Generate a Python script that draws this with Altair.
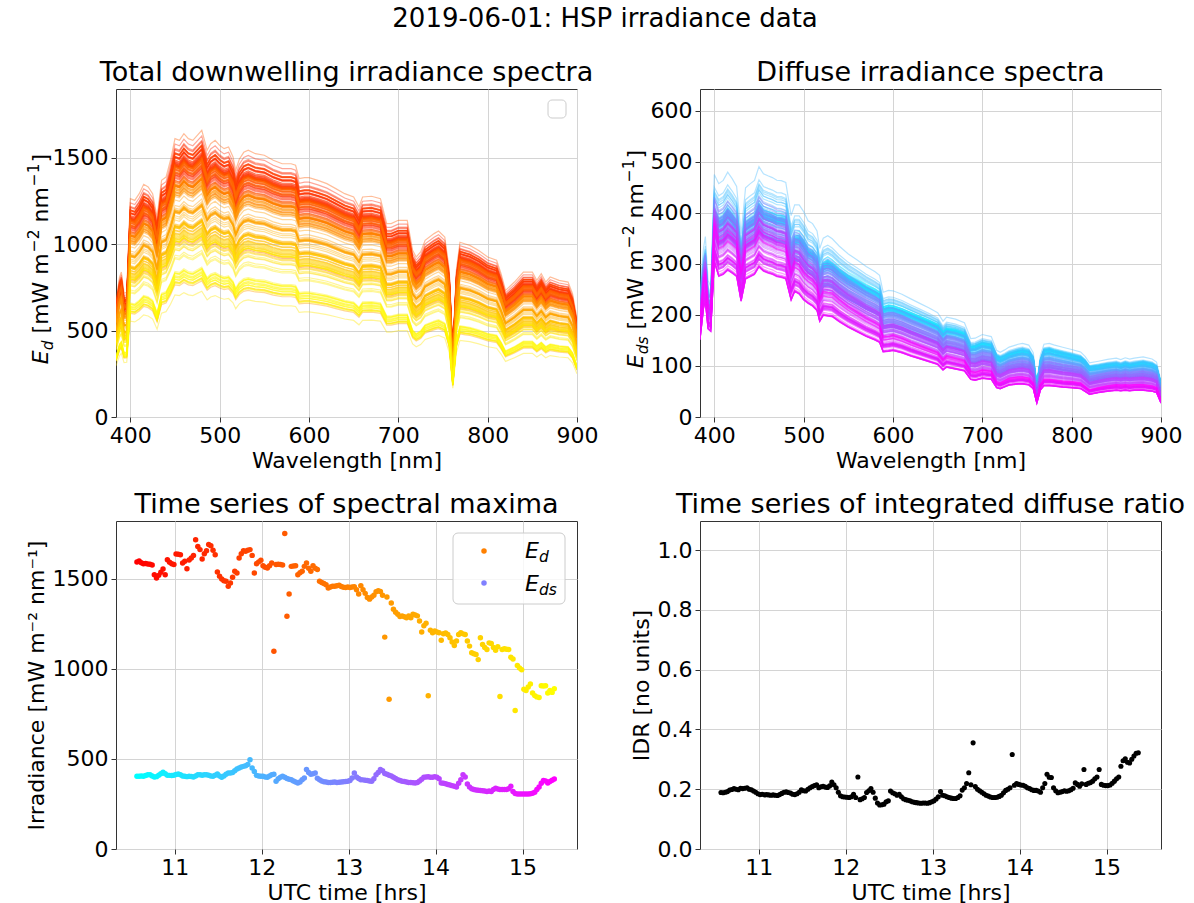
import altair as alt
import pandas as pd

FONT = "DejaVu Sans"

# ---------------- time series (1.5-min cadence starting 10.565 h UTC) ----------------
T0_H = 10.565
STEP_H = 0.025

ED_MAX = [
    1594, 1600, 1590, 1585, 1586, 1583, 1582, 1578, 1524, 1505,
    1520, 1537, 1555, 1524, 1607, 1593, 1585, 1580, 1639, 1637,
    1635, 1589, 1598, 1557, 1605, 1617, 1631, 1718, 1680, 1663,
    1611, 1640, 1657, 1691, 1685, 1660, 1635, 1539, 1515, 1500,
    1490, 1487, 1459, 1478, 1510, 1543, 1533, 1617, 1640, 1657,
    1654, 1660, 1663, 1631, 1533, 1585, 1595, 1604, 1574, 1565,
    1561, 1574, 1589, 1098, 1580, 1582, 1580, 1578, 1752, 1293,
    1417, 1570, 1572, 1574, 1524, 1535, 1543, 1570, 1589, 1560,
    1543, 1574, 1560, 1552, 1487, 1481, 1475, 1468, 1450, 1455,
    1459, 1459, 1462, 1465, 1458, 1454, 1452, 1455, 1453, 1455,
    1457, 1440, 1416, 1463, 1440, 1420, 1397, 1388, 1400, 1410,
    1429, 1435, 1430, 1410, 1177, 1400, 832, 1366, 1332, 1315,
    1304, 1291, 1295, 1290, 1285, 1295, 1285, 1304, 1300, 1295,
    1267, 1205, 1240, 1254, 851, 1215, 1201, 1211, 1205, 1201,
    1160, 1196, 1200, 1192, 1173, 1150, 1131, 1155, 1192, 1201,
    1195, 1192, 1155, 1127, 1090, 1085, 1080, 1052, 1173, 1136,
    1120, 1108, 1145, 1141, 1120, 1104, 1123, 847, 1108, 1112,
    1110, 1108, 1065, 1056, 769, 1019, 1005, 996, 888, 880,
    900, 916, 866, 852, 845, 841, 907, 905, 907, 866,
    880, 870, 890,
]

EDS_MAX = [
    404, 404, 405, 404, 408, 413, 412, 405, 400, 402,
    410, 418, 426, 418, 410, 409, 408, 410, 414, 417,
    412, 406, 404, 402, 404, 403, 400, 406, 412, 413,
    410, 412, 413, 410, 406, 404, 410, 417, 405, 398,
    405, 415, 422, 422, 425, 435, 444, 450, 455, 459,
    462, 470, 496, 450, 430, 409, 406, 404, 404, 400,
    398, 405, 412, 415, 376, 390, 398, 404, 398, 392,
    388, 385, 378, 372, 367, 372, 385, 395, 441, 425,
    415, 418, 422, 393, 385, 378, 374, 372, 370, 370,
    371, 372, 370, 371, 372, 374, 375, 376, 380, 395,
    422, 400, 392, 385, 384, 382, 380, 378, 376, 390,
    413, 425, 441, 435, 420, 415, 410, 405, 398, 392,
    385, 380, 376, 375, 372, 370, 369, 368, 367, 370,
    378, 388, 398, 400, 401, 398, 399, 402, 398, 390,
    367, 365, 362, 358, 355, 352, 348, 345, 365, 385,
    413, 400, 361, 345, 335, 330, 328, 326, 325, 323,
    322, 320, 322, 320, 330, 337, 333, 330, 330, 331,
    330, 335, 348, 320, 308, 306, 305, 306, 306, 305,
    306, 307, 310, 315, 330, 345, 365, 380, 378, 367,
    375, 382, 389,
]

IDR = [
    0.189, 0.188, 0.190, 0.192, 0.197, 0.199, 0.202, 0.200, 0.198, 0.203,
    0.202, 0.203, 0.205, 0.200, 0.198, 0.194, 0.190, 0.185, 0.182, 0.183,
    0.181, 0.182, 0.181, 0.180, 0.181, 0.180, 0.179, 0.182, 0.186, 0.190,
    0.191, 0.189, 0.187, 0.183, 0.182, 0.185, 0.190, 0.198, 0.195, 0.194,
    0.200, 0.205, 0.209, 0.212, 0.215, 0.205, 0.208, 0.210, 0.207, 0.206,
    0.211, 0.224, 0.215, 0.205, 0.190, 0.178, 0.175, 0.174, 0.173, 0.172,
    0.175, 0.183, 0.172, 0.241, 0.165, 0.168, 0.172, 0.189, 0.195, 0.202,
    0.190, 0.170, 0.154, 0.147, 0.148, 0.150, 0.158, 0.161, 0.194, 0.188,
    0.185, 0.180, 0.183, 0.175, 0.168, 0.165, 0.163, 0.161, 0.158, 0.156,
    0.155, 0.154, 0.153, 0.154, 0.154, 0.153, 0.155, 0.158, 0.161, 0.167,
    0.175, 0.192, 0.180, 0.178, 0.175, 0.172, 0.170, 0.169, 0.169, 0.172,
    0.178, 0.197, 0.205, 0.219, 0.255, 0.215, 0.355, 0.209, 0.200, 0.195,
    0.190, 0.185, 0.180, 0.177, 0.174, 0.172, 0.172, 0.173, 0.176, 0.180,
    0.188, 0.196, 0.200, 0.205, 0.316, 0.213, 0.219, 0.216, 0.214, 0.213,
    0.210, 0.205, 0.202, 0.198, 0.196, 0.196, 0.194, 0.190, 0.205, 0.219,
    0.250, 0.240, 0.239, 0.205, 0.195, 0.188, 0.190, 0.192, 0.195, 0.193,
    0.195, 0.198, 0.203, 0.221, 0.216, 0.210, 0.218, 0.266, 0.216, 0.220,
    0.222, 0.227, 0.235, 0.241, 0.266, 0.216, 0.213, 0.212, 0.212, 0.214,
    0.220, 0.227, 0.235, 0.241, 0.277, 0.295, 0.302, 0.290, 0.288, 0.300,
    0.311, 0.320, 0.322,
]

# ---------------- spectral shapes ----------------
WL = [384, 388, 390, 393, 396, 400, 405, 410, 415, 420,
      425, 430, 435, 440, 445, 450, 455, 460, 465, 470,
      475, 480, 486, 490, 495, 500, 505, 510, 515, 518,
      522, 527, 532, 540, 550, 560, 570, 580, 585, 589,
      595, 600, 610, 620, 630, 640, 650, 656, 660, 670,
      680, 687, 692, 700, 710, 716, 720, 725, 730, 740,
      745, 752, 757, 761, 765, 769, 775, 780, 790, 800,
      810, 815, 820, 830, 840, 850, 855, 860, 865, 870,
      880, 890, 895, 900]

# brightest total downwelling spectrum (upper envelope)
ED_TOP = [674, 810, 838, 716, 720, 1262, 1252, 1291, 1345, 1330,
          1291, 1156, 1368, 1387, 1484, 1609, 1599, 1638, 1609, 1599,
          1628, 1657, 1542, 1580, 1599, 1570, 1551, 1561, 1503, 1426,
          1490, 1530, 1542, 1522, 1513, 1484, 1464, 1464, 1455, 1378,
          1384, 1384, 1368, 1349, 1320, 1291, 1272, 1214, 1272, 1276,
          1262, 1118, 1118, 1137, 1137, 963, 925, 954, 1021, 1060,
          1075, 1040, 850, 380, 850, 1010, 1000, 992, 963, 925,
          906, 829, 732, 780, 838, 838, 790, 829, 780, 809,
          790, 780, 713, 568]

# diffuse spectrum shape early in the day (cyan lines)
DS_EARLY = [236, 300, 321, 243, 230, 432, 426, 432, 448, 435,
            419, 328, 419, 426, 432, 458, 445, 442, 439, 435,
            435, 432, 373, 390, 393, 383, 364, 360, 347, 315,
            334, 341, 334, 321, 308, 298, 287, 278, 272, 240,
            244, 242, 236, 228, 220, 212, 203, 188, 195, 192,
            185, 155, 157, 164, 160, 135, 131, 135, 140, 146,
            148, 145, 130, 72, 125, 148, 150, 147, 142, 137,
            132, 124, 111, 113, 116, 118, 115, 119, 116, 118,
            121, 117, 111, 75]

# diffuse spectrum shape late in the day (magenta lines)
DS_LATE = [165, 235, 249, 190, 185, 334, 301, 305, 314, 308,
           301, 249, 295, 300, 305, 321, 312, 308, 305, 300,
           298, 295, 249, 268, 262, 249, 242, 236, 226, 203,
           216, 214, 213, 202, 190, 180, 170, 162, 157, 137,
           138, 140, 135, 128, 122, 116, 110, 98, 104, 100,
           96, 78, 76, 80, 78, 60, 58, 62, 66, 68,
           68, 66, 58, 28, 55, 64, 64, 63, 61, 60,
           58, 52, 46, 50, 53, 55, 54, 55, 54, 55,
           55, 53, 50, 28]

N = len(ED_MAX)
TIME_H = [T0_H + STEP_H * k for k in range(N)]

ts = pd.DataFrame({"k": list(range(N)), "t": TIME_H, "ed": ED_MAX,
                   "eds": EDS_MAX, "idr": IDR})

ed_peak = max(ED_MAX)
e_pk = max(DS_EARLY)
l_pk = max(DS_LATE)
rows_ed, rows_ds = [], []
for k in range(N):
    w = k / (N - 1)
    for j, wl in enumerate(WL):
        rows_ed.append((k, wl, ED_TOP[j] * ED_MAX[k] / ed_peak))
        shape = (1 - w) * DS_EARLY[j] / e_pk + w * DS_LATE[j] / l_pk
        rows_ds.append((k, wl, EDS_MAX[k] * shape))
spec_ed = pd.DataFrame(rows_ed, columns=["k", "wl", "val"])
spec_ds = pd.DataFrame(rows_ds, columns=["k", "wl", "val"])

ONE = pd.DataFrame({"a": [0]})

W, H = 461, 328
AUTUMN = alt.Scale(domain=[0, N - 1], range=["#ff0000", "#ffff00"], interpolate="rgb")
COOL = alt.Scale(domain=[0, N - 1], range=["#00ffff", "#ff00ff"], interpolate="rgb")

def title(txt):
    return alt.TitleParams(txt, font=FONT, fontSize=27, fontWeight="normal",
                           color="black", anchor="middle", frame="group", offset=2)

x_wl = alt.X("wl:Q", scale=alt.Scale(domain=[384, 900], nice=False, zero=False),
             axis=alt.Axis(values=[400, 500, 600, 700, 800, 900], title="Wavelength [nm]"))
x_t = alt.X("t:Q", scale=alt.Scale(domain=[10.324, 15.626], nice=False, zero=False),
            axis=alt.Axis(values=[11, 12, 13, 14, 15], title="UTC time [hrs]"))


def ytitle(sub, xc, ymid):
    """Rotated y-axis title 'E_sub [mW m^-2 nm^-1]' built from text pieces."""
    sub_w = {"d": 9.8, "ds": 17.8}[sub]
    SP = 7.0  # width of a space at 22 px
    # (text, size, italic, baseline shift, gap before, advance width)
    pieces = [
        ("E", 22, True, 0, 0, 13.9),
        (sub, 15.4, True, 5, 0, sub_w),
        ("[mW m", 22, False, 0, SP, 80.2),
        ("\u22122", 15.4, False, -9, 1, 22.7),
        ("nm", 22, False, 0, SP, 35.4),
        ("\u22121", 15.4, False, -9, 1, 22.7),
        ("]", 22, False, 0, 1, 8.6),
    ]
    total = sum(p[4] + p[5] for p in pieces)
    y = ymid + total / 2
    xb = xc + 8  # baseline position (text rotated, reading upward)
    layers = []
    for txt, size, ital, shift, gap, wdt in pieces:
        y -= gap
        layers.append(
            alt.Chart(ONE).mark_text(
                text=txt, font=FONT, fontSize=size,
                fontStyle="italic" if ital else "normal", angle=270,
                align="left", baseline="alphabetic", color="black",
            ).encode(x=alt.value(xb + shift), y=alt.value(y))
        )
        y -= wdt
    return layers


# ---- panel 1: total downwelling spectra ----
lines_ed = alt.Chart(spec_ed).mark_line(strokeWidth=1.2, opacity=0.4, clip=True).encode(
    x=x_wl,
    y=alt.Y("val:Q", scale=alt.Scale(domain=[0, 1896], nice=False),
            axis=alt.Axis(values=[0, 500, 1000, 1500], format="d", title=None)),
    color=alt.Color("k:Q", scale=AUTUMN, legend=None),
    detail="k:N",
)
empty_leg = alt.Chart(ONE).mark_rect(fill="white", stroke="#cccccc", strokeWidth=1,
                                     cornerRadius=4).encode(
    x=alt.value(432), x2=alt.value(450), y=alt.value(11), y2=alt.value(29))
p1 = alt.layer(lines_ed, empty_leg, *ytitle("d", -76, 170)).properties(
    width=W, height=H, title=title("Total downwelling irradiance spectra"))

# ---- panel 2: diffuse spectra ----
lines_ds = alt.Chart(spec_ds).mark_line(strokeWidth=1.2, opacity=0.4, clip=True).encode(
    x=x_wl,
    y=alt.Y("val:Q", scale=alt.Scale(domain=[0, 643], nice=False),
            axis=alt.Axis(values=[0, 100, 200, 300, 400, 500, 600], format="d", title=None)),
    color=alt.Color("k:Q", scale=COOL, legend=None),
    detail="k:N",
)
p2 = alt.layer(lines_ds, *ytitle("ds", -65, 170)).properties(
    width=W, height=H, title=title("Diffuse irradiance spectra"))

# ---- panel 3: spectral maxima time series ----
y_irr = alt.Y("ed:Q", scale=alt.Scale(domain=[0, 1822], nice=False),
              axis=alt.Axis(values=[0, 500, 1000, 1500], format="d",
                            title="Irradiance [mW m⁻² nm⁻¹]"))
pts_ed = alt.Chart(ts).mark_circle(size=30, opacity=1).encode(
    x=x_t, y=y_irr, color=alt.Color("k:Q", scale=AUTUMN, legend=None))
pts_eds = alt.Chart(ts).mark_circle(size=30, opacity=1).encode(
    x=x_t, y=alt.Y("eds:Q", scale=alt.Scale(domain=[0, 1822], nice=False)),
    color=alt.Color("k:Q", scale=COOL, legend=None))
leg_box = alt.Chart(ONE).mark_rect(fill="white", fillOpacity=0.8, stroke="#cccccc",
                                   strokeWidth=1, cornerRadius=5).encode(
    x=alt.value(337), x2=alt.value(449), y=alt.value(12), y2=alt.value(83))
leg_p1 = alt.Chart(ONE).mark_circle(size=30, opacity=1, color="#ff8000").encode(
    x=alt.value(368), y=alt.value(30))
leg_p2 = alt.Chart(ONE).mark_circle(size=30, opacity=1, color="#8080ff").encode(
    x=alt.value(368), y=alt.value(62))
def leg_txt(sub, yb):
    e = alt.Chart(ONE).mark_text(text="E", font=FONT, fontSize=22, fontStyle="italic",
                                 align="left", baseline="alphabetic", color="black").encode(
        x=alt.value(409), y=alt.value(yb))
    s = alt.Chart(ONE).mark_text(text=sub, font=FONT, fontSize=15.5, fontStyle="italic",
                                 align="left", baseline="alphabetic", color="black").encode(
        x=alt.value(423), y=alt.value(yb + 4))
    return [e, s]
p3 = alt.layer(pts_ed, pts_eds, leg_box, leg_p1, leg_p2,
               *leg_txt("d", 37), *leg_txt("ds", 70)).resolve_scale(
    color="independent").properties(
    width=W, height=H, title=title("Time series of spectral maxima"))

# ---- panel 4: integrated diffuse ratio ----
p4 = alt.Chart(ts).mark_circle(size=26, opacity=1, color="black").encode(
    x=x_t,
    y=alt.Y("idr:Q", scale=alt.Scale(domain=[0, 1.097], nice=False),
            axis=alt.Axis(values=[0, 0.2, 0.4, 0.6, 0.8, 1.0], format=".1f",
                          title="IDR [no units]")),
).properties(width=W, height=H, title=title("Time series of integrated diffuse ratio"))

top = alt.hconcat(p1, p2, spacing=123, bounds="flush").resolve_scale(color="independent")
bottom = alt.hconcat(p3, p4, spacing=123, bounds="flush").resolve_scale(color="independent")
chart = alt.vconcat(top, bottom, spacing=18,
                    title=alt.TitleParams("2019-06-01: HSP irradiance data", font=FONT,
                                          fontSize=26, fontWeight="normal", color="black",
                                          anchor="middle", offset=27)
                    ).resolve_scale(color="independent")

chart = chart.properties(padding={"left": 24, "top": 5, "right": 0, "bottom": 0}).configure(
    font=FONT
).configure_view(stroke="#333333", strokeWidth=1).configure_axis(
    labelFont=FONT, labelFontSize=22, labelColor="black", labelFlush=False,
    labelOverlap=False, labelPadding=3,
    titleFont=FONT, titleFontSize=22, titleFontWeight="normal", titleColor="black",
    titlePadding=4,
    domain=False, ticks=True, tickSize=5, tickColor="#333333", tickWidth=1,
    grid=True, gridColor="#d4d4d4", gridWidth=1,
)

chart.save("out.html", embed_options={"renderer": "svg", "actions": False})
